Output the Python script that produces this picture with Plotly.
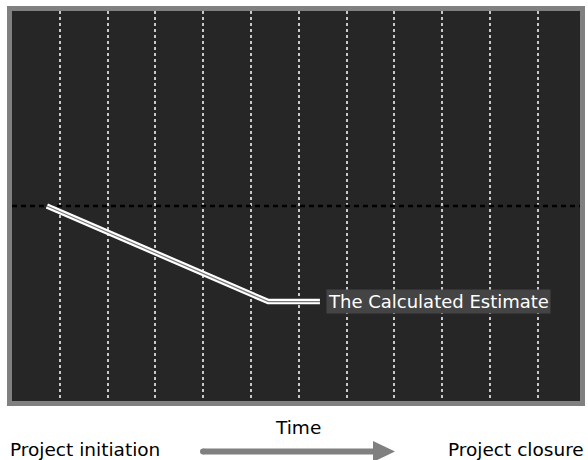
import plotly.graph_objects as go

# ---- data ----
time_points = [0.73, 5.36, 6.44]          # position along the time axis
estimate = [5.0, 2.55, 2.55]              # calculated estimate
baseline_value = 5.0                      # dotted reference level
grid_ticks = [1, 2, 3, 4, 5, 6, 7, 8, 9, 10, 11]
estimate_label = "The Calculated Estimate"
axis_title = "Time"
start_label = "Project initiation"
end_label = "Project closure"

W, H = 588, 460
L, R, T, B = 12, 8, 11, 59
PW, PH = W - L - R, H - T - B

def px(x):
    return (x - L) / PW

def py(y):
    return (H - B - y) / PH

FONT = "DejaVu Sans"

fig = go.Figure()

# dotted baseline across the full width
fig.add_trace(go.Scatter(
    x=[0, 11.88], y=[baseline_value, baseline_value], mode="lines",
    line=dict(color="black", width=2.5, dash="5px,4px"), hoverinfo="skip", showlegend=False))

# estimate line: white with thin dark core
fig.add_trace(go.Scatter(
    x=time_points, y=estimate, mode="lines",
    line=dict(color="white", width=5.5), hoverinfo="skip", showlegend=False))
fig.add_trace(go.Scatter(
    x=time_points, y=estimate, mode="lines",
    line=dict(color="#777777", width=1.2), hoverinfo="skip", showlegend=False))

fig.add_annotation(
    x=time_points[-1], y=estimate[-1], xref="x", yref="y",
    text=estimate_label, showarrow=False, xanchor="left", yanchor="middle",
    xshift=6, font=dict(family=FONT, size=18, color="white"),
    bgcolor="#444444", borderpad=1)

# frame
fig.add_shape(type="rect", xref="paper", yref="paper",
              x0=px(9.5), x1=px(582.5), y0=py(403.5), y1=py(8.5),
              line=dict(color="#808080", width=5), layer="above")

# bottom labels
fig.add_annotation(x=px(298), y=py(427), xref="paper", yref="paper", text=axis_title,
                   showarrow=False, xanchor="center", yanchor="middle",
                   font=dict(family=FONT, size=18.5, color="black"))
fig.add_annotation(x=px(9), y=py(449.5), xref="paper", yref="paper", text=start_label,
                   showarrow=False, xanchor="left", yanchor="middle", borderpad=0,
                   font=dict(family=FONT, size=18.5, color="black"))
fig.add_annotation(x=px(585), y=py(449.5), xref="paper", yref="paper", text=end_label,
                   showarrow=False, xanchor="right", yanchor="middle", borderpad=0,
                   font=dict(family=FONT, size=18.5, color="black"))

# arrow
fig.add_shape(type="line", xref="paper", yref="paper",
              x0=px(203), x1=px(375), y0=py(451.5), y1=py(451.5),
              line=dict(color="#808080", width=6))
fig.add_shape(type="circle", xref="paper", yref="paper",
              x0=px(200), x1=px(206), y0=py(454.5), y1=py(448.5),
              line=dict(width=0), fillcolor="#808080")
fig.add_shape(type="path", xref="paper", yref="paper",
              path=f"M {px(373)} {py(441)} L {px(395)} {py(451.5)} L {px(373)} {py(462)} Z",
              line=dict(width=0), fillcolor="#808080")

fig.update_layout(
    width=W, height=H, margin=dict(l=L, r=R, t=T, b=B),
    paper_bgcolor="white", plot_bgcolor="#262626",
    showlegend=False,
    xaxis=dict(range=[0, 11.88], tickvals=grid_ticks, showticklabels=False, ticks="",
               showgrid=True, gridcolor="#c8c8c8", gridwidth=1.5, griddash="3px,3px",
               zeroline=False, showline=False, fixedrange=True),
    yaxis=dict(range=[0, 10], showgrid=False, showticklabels=False, ticks="",
               zeroline=False, showline=False, fixedrange=True),
)

fig.write_html("out.html", config={"displayModeBar": False},
               post_script="document.body.style.margin='0';document.body.style.overflow='hidden';")
